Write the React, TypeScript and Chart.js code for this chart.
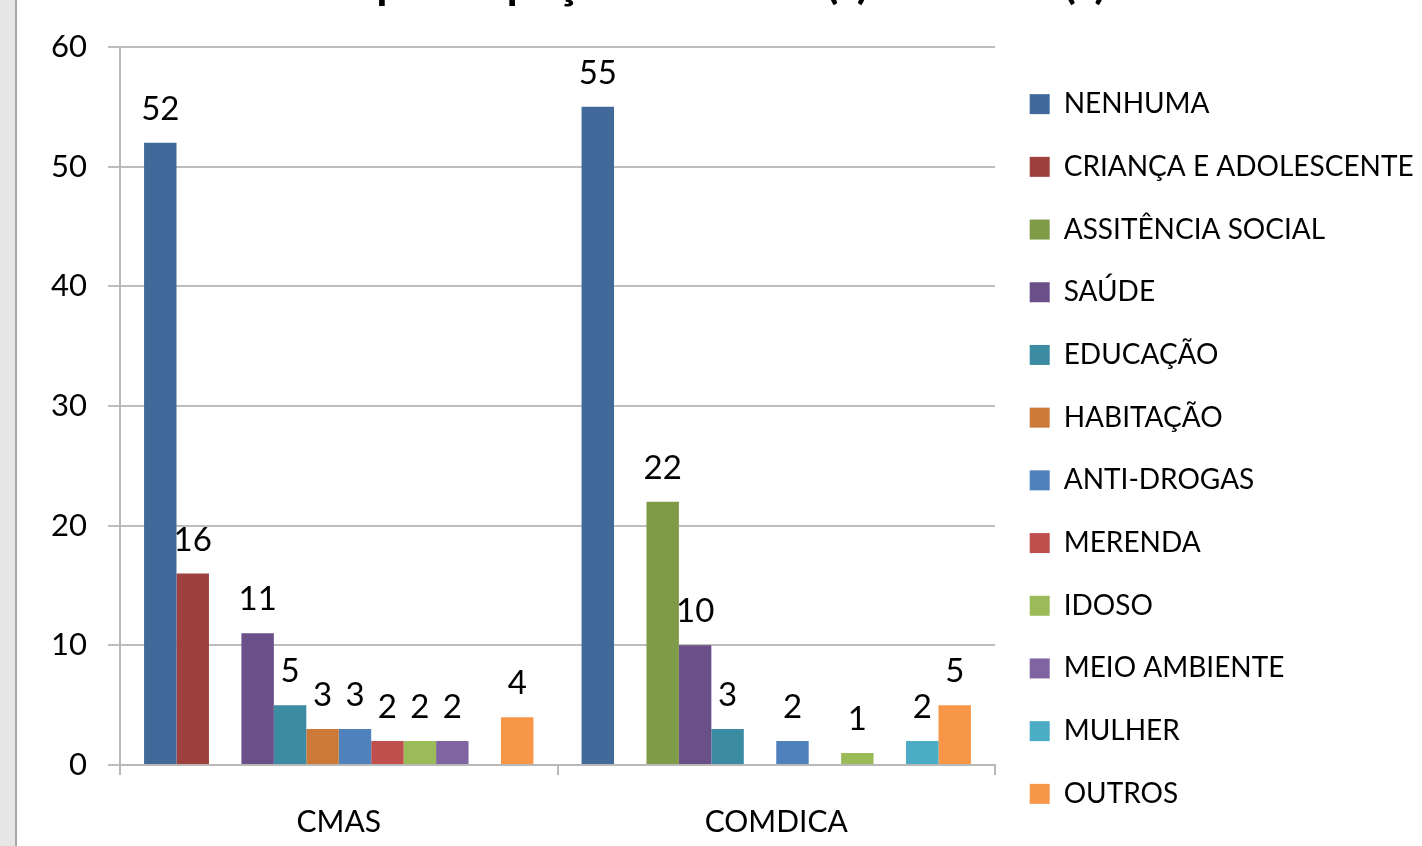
import React, { useEffect, useRef } from "react";
import { Chart, registerables } from "chart.js";

Chart.register(...registerables);

const categories = ["CMAS", "COMDICA"];
const titleText = "A participação em outro(s) conselho(s)";

const seriesNames = [
  "NENHUMA",
  "CRIANÇA E ADOLESCENTE",
  "ASSITÊNCIA SOCIAL",
  "SAÚDE",
  "EDUCAÇÃO",
  "HABITAÇÃO",
  "ANTI-DROGAS",
  "MERENDA",
  "IDOSO",
  "MEIO AMBIENTE",
  "MULHER",
  "OUTROS",
];

const nenhuma = [52, 55];
const criancaAdolescente = [16, 0];
const assistenciaSocial = [0, 22];
const saude = [11, 10];
const educacao = [5, 3];
const habitacao = [3, 0];
const antiDrogas = [3, 2];
const merenda = [2, 0];
const idoso = [2, 1];
const meioAmbiente = [2, 0];
const mulher = [0, 2];
const outros = [4, 5];

const seriesValues = [
  nenhuma,
  criancaAdolescente,
  assistenciaSocial,
  saude,
  educacao,
  habitacao,
  antiDrogas,
  merenda,
  idoso,
  meioAmbiente,
  mulher,
  outros,
];

const seriesColors = [
  "#416A9B",
  "#9E413E",
  "#7F9B48",
  "#6A4F89",
  "#3B8BA3",
  "#CD7A39",
  "#4F81BD",
  "#C0504D",
  "#9BBB59",
  "#8064A2",
  "#4BACC6",
  "#F79646",
];

const yTicks = [0, 10, 20, 30, 40, 50, 60];

const FONT = "Lato";

const valueLabels = {
  id: "valueLabels",
  afterDatasetsDraw(chart: any) {
    const ctx = chart.ctx;
    ctx.save();
    ctx.font = `normal 33px ${FONT}`;
    ctx.fillStyle = "#000";
    ctx.textAlign = "center";
    ctx.textBaseline = "alphabetic";
    chart.data.datasets.forEach((ds: any, i: number) => {
      const meta = chart.getDatasetMeta(i);
      meta.data.forEach((el: any, j: number) => {
        const v = ds.data[j];
        if (!v) return;
        ctx.fillText(String(v), el.x, el.y - 23);
      });
    });
    ctx.restore();
  },
};

export default function App() {
  const ref = useRef<HTMLCanvasElement | null>(null);

  useEffect(() => {
    if (!ref.current) return;
    const chart = new Chart(ref.current, {
      type: "bar",
      data: {
        labels: categories,
        datasets: seriesNames.map((name, i) => ({
          label: name,
          data: seriesValues[i],
          backgroundColor: seriesColors[i],
          borderColor: seriesColors[i],
          borderWidth: 0,
          categoryPercentage: 0.89,
          barPercentage: 1,
        })),
      },
      options: {
        responsive: false,
        devicePixelRatio: 1,
        animation: false,
        layout: { padding: { top: 0, left: 0, bottom: 0, right: 0 } },
        plugins: {
          title: {
            display: true,
            text: titleText,
            color: "#000",
            font: { family: FONT, size: 46, weight: "bold" },
            padding: { top: 0, bottom: 35.8 },
          },
          legend: {
            display: true,
            position: "right",
            align: "center",
            maxWidth: 427,
            labels: {
              boxWidth: 20,
              boxHeight: 20,
              padding: 34.7,
              color: "#000",
              font: { family: FONT, size: 28 },
            },
          },
          tooltip: { enabled: false },
        },
        scales: {
          x: {
            grid: {
              drawOnChartArea: false,
              drawTicks: true,
              tickLength: 10,
              color: "#b8b8b8",
              lineWidth: 2,
              offset: true,
            },
            border: { color: "#b8b8b8", width: 2 },
            ticks: {
              color: "#000",
              font: { family: FONT, size: 30 },
              padding: 29,
            },
            afterFit: (s: any) => {
              s.height = 177;
            },
          },
          y: {
            min: yTicks[0],
            max: yTicks[yTicks.length - 1],
            ticks: {
              stepSize: 10,
              color: "#000",
              font: { family: FONT, size: 31 },
              padding: 21,
            },
            grid: { color: "#bdbdbd", lineWidth: 2, tickLength: 12 },
            border: { color: "#b8b8b8", width: 2 },
            afterFit: (s: any) => {
              s.width = 102;
            },
          },
        },
      },
      plugins: [valueLabels],
    } as any);
    return () => chart.destroy();
  }, []);

  return (
    <div
      style={{
        position: "fixed",
        left: 0,
        top: 0,
        width: 1422,
        height: 846,
        overflow: "hidden",
        background: "#fff",
      }}
    >
      <div
        style={{
          position: "absolute",
          left: 0,
          top: 0,
          width: 15,
          height: 846,
          background: "#e6e6e6",
          borderRight: "2px solid #a6a6a6",
        }}
      />
      <canvas
        ref={ref}
        width={1404}
        height={986}
        style={{ position: "absolute", left: 18, top: -44, width: 1404, height: 986 }}
      />
    </div>
  );
}
